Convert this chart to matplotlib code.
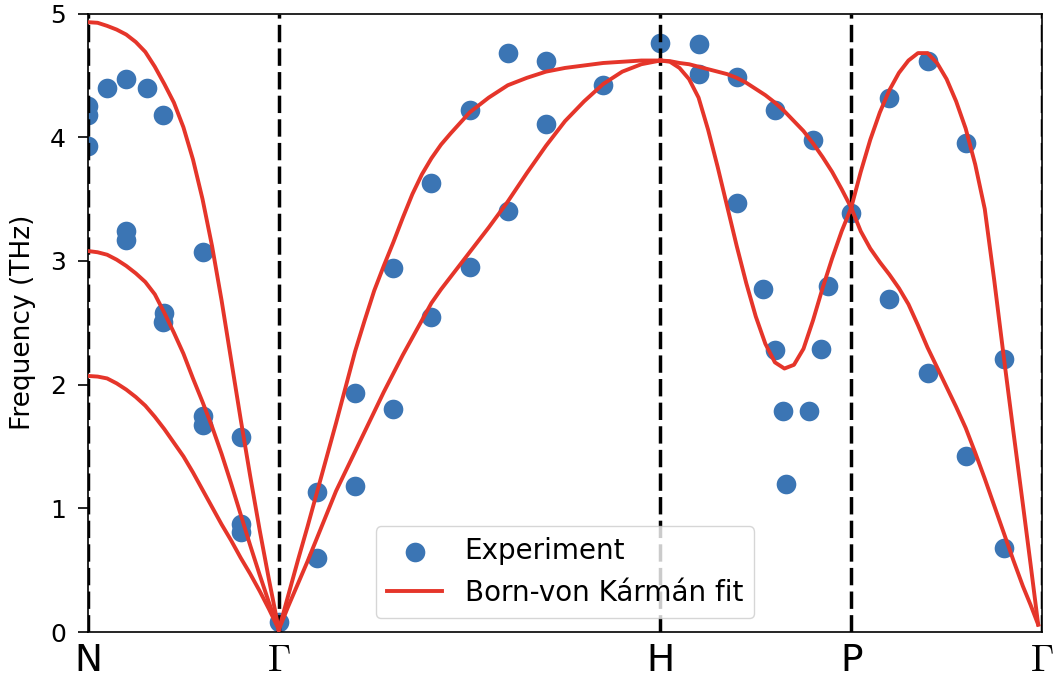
import numpy as np
import matplotlib
matplotlib.use('Agg')
import matplotlib.pyplot as plt

# High-symmetry path positions and labels
kpoint_pos = [0.0, 0.5, 1.5, 2.0, 2.5]
kpoint_labels = ['N', r'$\Gamma$', 'H', 'P', r'$\Gamma$']

# Measured phonon frequencies (THz)
exp_q = [0.0, 0.0, 0.0, 0.05, 0.10, 0.155, 0.197, 0.10, 0.10, 0.30, 0.20, 0.197,
         0.30, 0.30, 0.40, 0.40, 0.40, 0.50,
         0.60, 0.60, 0.70, 0.70, 0.80, 0.80, 0.90, 0.90, 1.00, 1.00, 1.10, 1.10,
         1.20, 1.20, 1.35, 1.50,
         1.60, 1.60, 1.70, 1.70, 1.80, 1.77, 1.90, 1.94, 1.80, 1.92, 1.82, 1.89,
         1.83, 2.00,
         2.10, 2.10, 2.20, 2.20, 2.30, 2.30, 2.40, 2.40]
exp_freq = [4.25, 4.18, 3.93, 4.40, 4.47, 4.40, 4.18, 3.24, 3.17, 3.07, 2.58, 2.51,
            1.75, 1.67, 1.58, 0.87, 0.81, 0.08,
            0.60, 1.13, 1.93, 1.18, 1.80, 2.94, 2.55, 3.63, 2.95, 4.22, 3.40, 4.68,
            4.11, 4.62, 4.42, 4.76,
            4.75, 4.51, 4.49, 3.47, 4.22, 2.77, 3.98, 2.80, 2.28, 2.29, 1.79, 1.79,
            1.20, 3.39,
            4.32, 2.69, 4.62, 2.09, 3.95, 1.42, 2.21, 0.68]

# Born-von Karman branches, segment by segment
ng_q = [0.0, 0.025, 0.05, 0.075, 0.10, 0.125, 0.15, 0.175, 0.20, 0.225, 0.25,
        0.275, 0.30, 0.325, 0.35, 0.375, 0.40, 0.425, 0.45, 0.475, 0.50]
ng_top = [4.93, 4.925, 4.90, 4.87, 4.83, 4.77, 4.69, 4.57, 4.43, 4.28, 4.08,
          3.82, 3.50, 3.12, 2.68, 2.20, 1.72, 1.26, 0.82, 0.41, 0.02]
ng_mid = [3.08, 3.07, 3.05, 3.01, 2.96, 2.90, 2.83, 2.73, 2.58, 2.42, 2.25,
          2.05, 1.86, 1.66, 1.44, 1.20, 0.95, 0.70, 0.46, 0.23, 0.02]
ng_low = [2.07, 2.065, 2.05, 2.01, 1.96, 1.90, 1.83, 1.74, 1.64, 1.53, 1.42,
          1.29, 1.15, 1.01, 0.87, 0.74, 0.60, 0.47, 0.33, 0.18, 0.02]

gh_q = [0.50, 0.525, 0.55, 0.575, 0.60, 0.625, 0.65, 0.675, 0.70, 0.725, 0.75,
        0.775, 0.80, 0.825, 0.85, 0.875, 0.90, 0.925, 0.95, 1.00, 1.05, 1.10,
        1.15, 1.20, 1.25, 1.30, 1.35, 1.40, 1.45, 1.50]
gh_upper = [0.02, 0.30, 0.58, 0.85, 1.13, 1.41, 1.69, 1.98, 2.27, 2.52, 2.76,
            2.96, 3.15, 3.35, 3.54, 3.70, 3.83, 3.94, 4.03, 4.20, 4.32, 4.42,
            4.48, 4.53, 4.56, 4.58, 4.60, 4.61, 4.62, 4.62]
gh_lower = [0.02, 0.21, 0.39, 0.57, 0.76, 0.95, 1.14, 1.30, 1.46, 1.62, 1.78,
            1.94, 2.09, 2.24, 2.38, 2.52, 2.66, 2.77, 2.87, 3.07, 3.27, 3.48,
            3.71, 3.93, 4.13, 4.29, 4.43, 4.53, 4.59, 4.62]

hp_q = [1.50, 1.525, 1.55, 1.575, 1.60, 1.625, 1.65, 1.675, 1.70, 1.725, 1.75,
        1.775, 1.80, 1.825, 1.85, 1.875, 1.90, 1.925, 1.95, 1.975, 2.00]
hp_upper = [4.62, 4.615, 4.60, 4.59, 4.57, 4.55, 4.53, 4.51, 4.48, 4.44, 4.39,
            4.34, 4.28, 4.21, 4.13, 4.05, 3.95, 3.84, 3.72, 3.58, 3.43]
hp_lower = [4.62, 4.61, 4.56, 4.47, 4.32, 4.06, 3.76, 3.44, 3.12, 2.82, 2.55,
            2.33, 2.18, 2.13, 2.16, 2.29, 2.52, 2.78, 3.02, 3.24, 3.43]

pg_q = [2.00, 2.025, 2.05, 2.075, 2.10, 2.125, 2.15, 2.175, 2.20, 2.225, 2.25,
        2.275, 2.30, 2.325, 2.35, 2.375, 2.40, 2.425, 2.45, 2.47, 2.49]
pg_rise = [3.43, 3.72, 3.98, 4.20, 4.38, 4.52, 4.62, 4.68, 4.68, 4.60, 4.47,
           4.29, 4.07, 3.78, 3.42, 2.84, 2.22, 1.62, 1.03, 0.55, 0.06]
pg_fall = [3.43, 3.24, 3.10, 2.99, 2.89, 2.78, 2.65, 2.48, 2.30, 2.14, 1.98,
           1.82, 1.65, 1.45, 1.24, 1.02, 0.80, 0.58, 0.37, 0.22, 0.06]

branches = [
    (ng_q, ng_top), (ng_q, ng_mid), (ng_q, ng_low),
    (gh_q, gh_upper), (gh_q, gh_lower),
    (hp_q, hp_upper), (hp_q, hp_lower),
    (pg_q, pg_rise), (pg_q, pg_fall),
]

dot_color = '#3b75b4'
fit_color = '#e5352a'


def main():
    plt.rcParams['mathtext.fontset'] = 'cm'
    fig = plt.figure(figsize=(10.57, 6.86), dpi=100)
    ax = fig.add_axes([0.0833, 0.0787, 0.9025, 0.9016])

    ax.scatter(exp_q, exp_freq, s=200, color=dot_color, zorder=1,
               label='Experiment', linewidths=0)

    for k in kpoint_pos:
        ax.axvline(k, color='black', linestyle=(0, (5, 1.8)), linewidth=2.5,
                   zorder=2)

    for i, (q, f) in enumerate(branches):
        ax.plot(q, f, color=fit_color, linewidth=2.8, zorder=3,
                solid_joinstyle='round',
                label='Born-von Kármán fit' if i == 0 else None)

    ax.set_xlim(0, 2.5)
    ax.set_ylim(0, 5)
    ax.set_xticks(kpoint_pos)
    ax.set_xticklabels(kpoint_labels, fontsize=27)
    ax.tick_params(axis='x', length=0, pad=8)
    ax.set_yticks([0, 1, 2, 3, 4, 5])
    ax.tick_params(axis='y', labelsize=18, length=7, width=1.2, pad=9)
    ax.set_ylabel('Frequency (THz)', fontsize=19, labelpad=10)
    for sp in ax.spines.values():
        sp.set_linewidth(1.2)

    ax.legend(loc='lower center', fontsize=20, markerscale=1.0)

    fig.savefig('out.png', dpi=100)


if __name__ == '__main__':
    main()
